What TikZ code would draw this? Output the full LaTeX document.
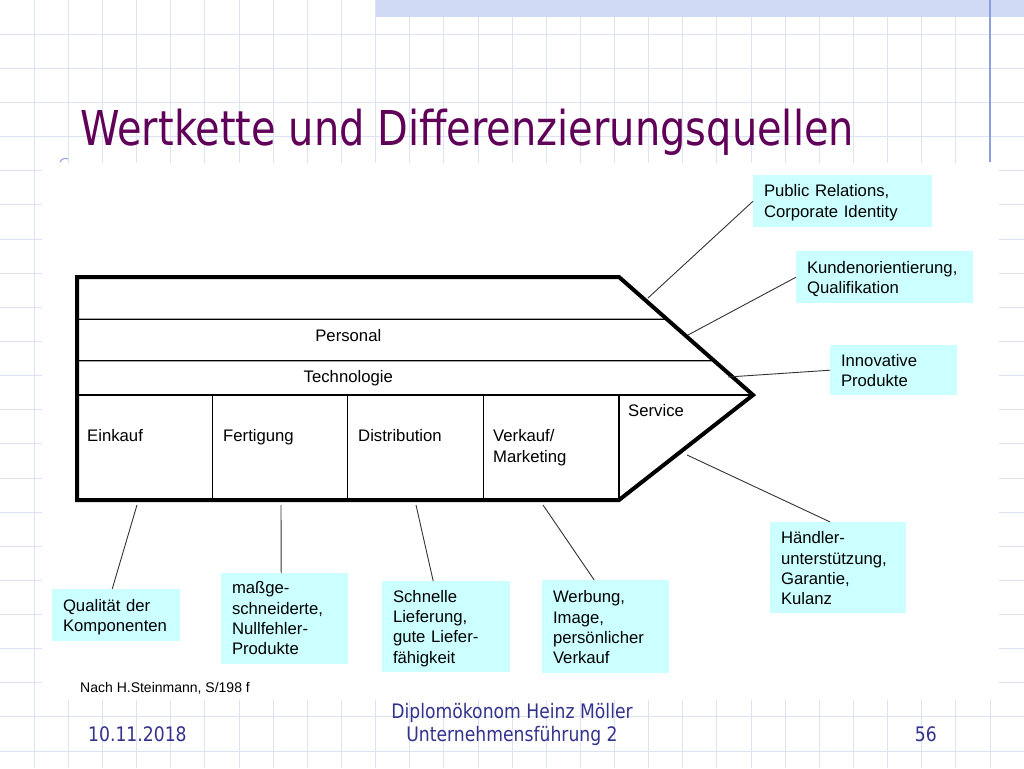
\documentclass[tikz,border=0pt]{standalone}
\usepackage{graphicx}
\usepackage{fontspec}
\setmainfont{Liberation Sans}
\newfontfamily\tah{DejaVu Sans}
\usetikzlibrary{calc}
\definecolor{gridc}{RGB}{220,227,245}
\definecolor{boxc}{RGB}{204,255,255}
\definecolor{titlec}{RGB}{96,0,88}
\definecolor{footc}{RGB}{51,51,140}
\definecolor{bandc}{RGB}{208,218,244}
\definecolor{vlinec}{RGB}{140,158,222}
\begin{document}
\begin{tikzpicture}[x=1pt,y=-1pt,
  gridline/.style={draw=gridc,line width=0.7pt},
  lbl/.style={font=\fontsize{16.7}{20.3}\selectfont,inner sep=0pt,anchor=base west,align=left},
  clbl/.style={font=\fontsize{16.7}{20.3}\selectfont,inner sep=0pt,anchor=base},
  cbox/.style={fill=boxc,anchor=north west,inner xsep=10.8pt,inner ysep=0pt,
               font=\fontsize{16.7}{20.3}\selectfont,align=left},
  conn/.style={draw=black!80,line width=0.9pt},
  inl/.style={draw=black,line width=1.3pt},
  outl/.style={draw=black,line width=4pt,line join=miter},
  foot/.style={text=footc,font=\tah\fontsize{20}{24}\selectfont,inner sep=0pt}
]
\useasboundingbox (0,0) rectangle (1024,768);
\fill[white] (0,0) rectangle (1024,768);
% grid
\foreach \i in {1,...,29} \draw[gridline] ({\i*34.1333},0) -- ({\i*34.1333},768);
\foreach \i in {1,...,22} \draw[gridline] (0,{\i*34.1333}) -- (1024,{\i*34.1333});
% decorations
\fill[bandc] (376,0) rectangle (1024,17);
\draw[draw=vlinec,line width=1.5pt] (990,0) -- (990,162);
\fill[white] (42,163) rectangle (999,700);
\draw[draw=vlinec,line width=1pt] (60,162) .. controls (62,158.5) and (65,157.5) .. (68,159);
% title
\node[anchor=base west,inner sep=0pt,text=titlec,font=\tah\fontsize{48}{56}\selectfont] (title) at (80,145)
  {\scalebox{0.832}[1]{Wertkette und Differenzierungsquellen}};
% chain
\coordinate (tl) at (77,277);
\coordinate (tr) at (619,277);
\coordinate (ap) at (753,395);
\coordinate (br) at (619,500);
\coordinate (bl) at (77,500);
\draw[inl] (77,319.3) -- ($(tr)!0.358!(ap)$);
\draw[inl] (77,360.7) -- ($(tr)!0.709!(ap)$);
\draw[inl] (77,395) -- (ap);
\foreach \x in {212.7,347.7,483.3,619} \draw[inl] (\x,395) -- (\x,500);
\draw[outl] (tl) -- (tr) -- (ap) -- (br) -- (bl) -- cycle;
\node[clbl] (pers) at (348.3,341.7) {Personal};
\node[clbl] (tech) at (348.3,382.7) {Technologie};
\node[lbl] (ein) at (87,441.7) {Einkauf};
\node[lbl] (fert) at (223,441.7) {Fertigung};
\node[lbl] (dist) at (358,441.7) {Distribution};
\node[lbl,text width=110pt] (verk) at (493,441.7) {Verkauf/\\Marketing};
\node[lbl] (serv) at (628,416.7) {Service};
% boxes
\node[cbox,text width=157.4pt,text height=21.7pt,text depth=30.3pt] (pr) at (753,175) {Public Relations,\\Corporate Identity};
\node[cbox,text width=155.4pt,text height=22.3pt,text depth=29.7pt] (ku) at (796,251) {Kundenorientierung,\\Qualifikation};
\node[cbox,text width=105.4pt,text height=21pt,text depth=29pt] (inn) at (830,345) {Innovative\\Produkte};
\node[cbox,text width=114.4pt,text height=21.6pt,text depth=69.4pt] (hd) at (770,522) {Händler-\\unterstützung,\\Garantie,\\Kulanz};
\node[cbox,text width=105.4pt,text height=22.7pt,text depth=70.3pt] (wb) at (542,580) {Werbung,\\Image,\\persönlicher\\Verkauf};
\node[cbox,text width=106.4pt,text height=22.4pt,text depth=29.6pt] (qk) at (52,589) {Qualität der\\Komponenten};
\node[cbox,text width=105.4pt,text height=20.6pt,text depth=70.4pt] (mg) at (221,573) {maßge-\\schneiderte,\\Nullfehler-\\Produkte};
\node[cbox,text width=106.4pt,text height=21pt,text depth=70pt] (sl) at (382,581) {Schnelle\\Lieferung,\\gute Liefer-\\fähigkeit};
% connectors
\coordinate (c1) at (648,298);
\coordinate (c2) at (688,335);
\coordinate (c3) at (728,377);
\coordinate (c4) at (687,455);
\coordinate (c5) at (543,505);
\coordinate (c6) at (416,505);
\coordinate (c7) at (281,505);
\coordinate (c8) at (137,505);
\draw[conn] (c1) -- (pr.west);
\draw[conn] (c2) -- (ku.west);
\draw[conn] (c3) -- (inn.west);
\draw[conn] (c4) -- ([xshift=-8pt]hd.north);
\draw[conn] (c5) -- ([xshift=-11.5pt]wb.north);
\draw[conn] (c6) -- ([xshift=-13pt]sl.north);
\draw[conn] (c7) -- ([xshift=-3.5pt]mg.north);
\draw[conn] (c8) -- ([xshift=-4pt]qk.north);
% source
\node[anchor=base west,inner sep=0pt,font=\fontsize{14}{16}\selectfont] (src) at (80,692) {Nach H.Steinmann, S/198 f};
% footer
\node[foot,anchor=base west] (date) at (88,741.7) {\scalebox{0.86}[1]{10.11.2018}};
\node[foot,anchor=base] (auth) at (512,718.3) {\scalebox{0.86}[1]{Diplomökonom Heinz Möller}};
\node[foot,anchor=base] (course) at (512,741.7) {\scalebox{0.86}[1]{Unternehmensführung 2}};
\node[foot,anchor=base east] (page) at (937,741.7) {\scalebox{0.86}[1]{56}};
\end{tikzpicture}
\end{document}
